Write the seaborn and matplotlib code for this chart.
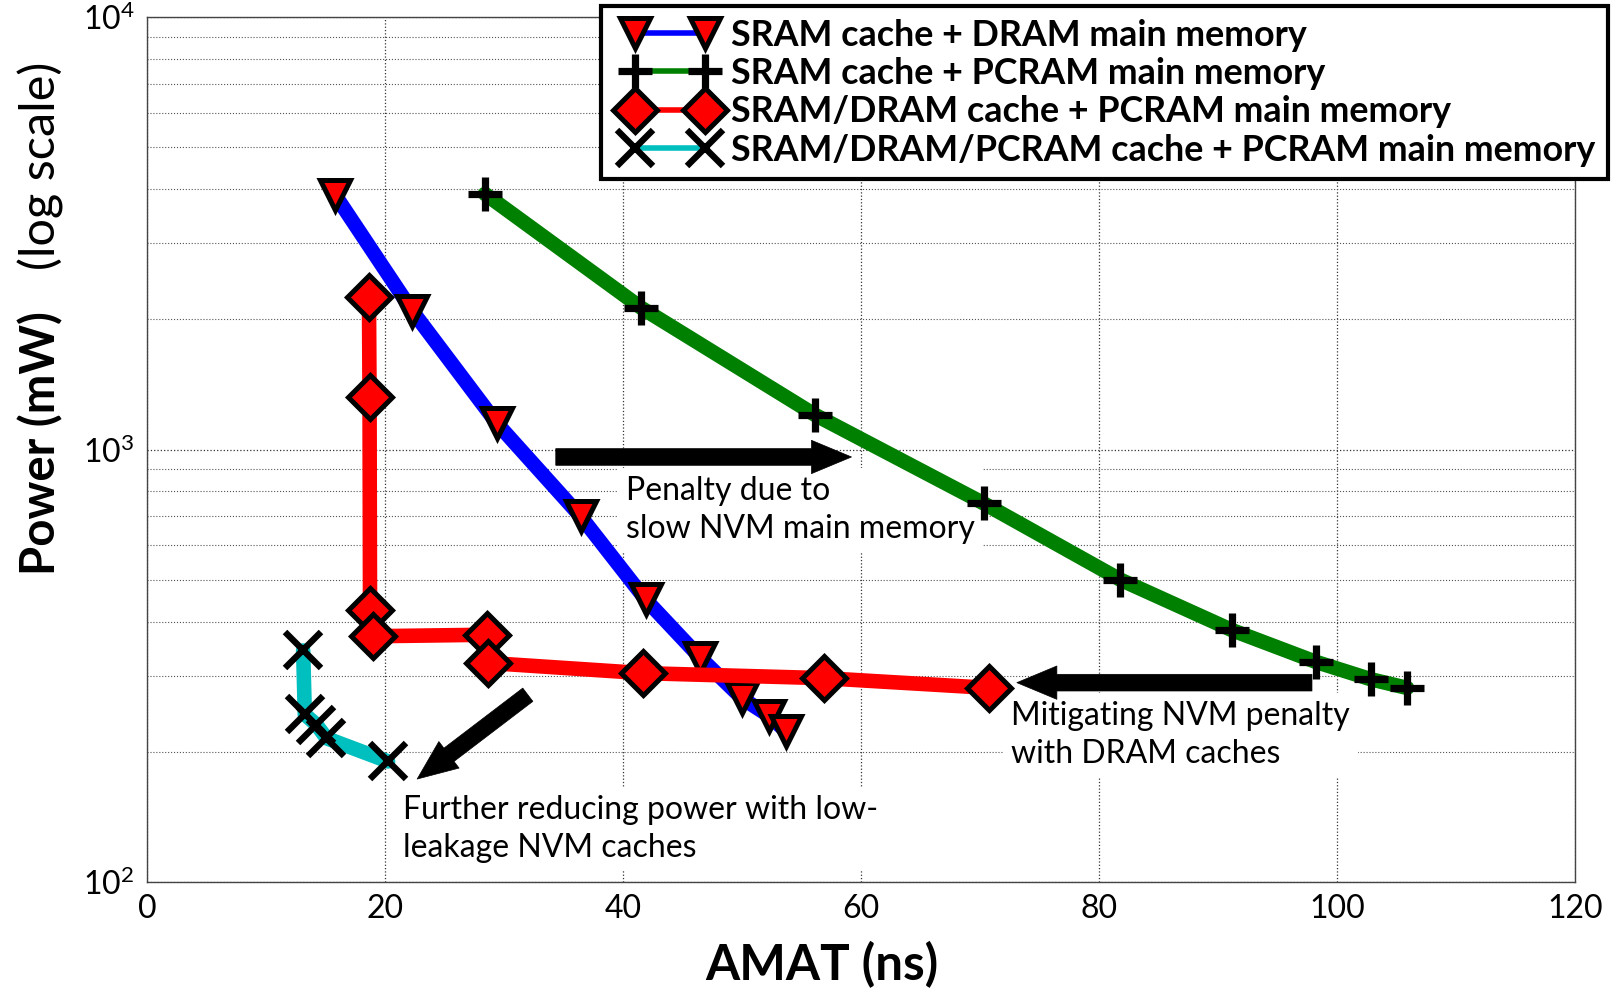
import math
import numpy as np
import matplotlib
matplotlib.use("Agg")
import matplotlib.pyplot as plt
from matplotlib.legend_handler import HandlerLine2D
from matplotlib.lines import Line2D
from matplotlib.ticker import FixedLocator, FuncFormatter, LogLocator, NullFormatter
import pandas as pd
import seaborn as sns

# AMAT (ns) and power (mW) of each memory-hierarchy configuration
amat_sram_dram = [15.8, 22.3, 29.4, 36.45, 41.9, 46.5, 50.0, 52.3, 53.7]
power_sram_dram = [3880, 2090, 1150, 700, 450, 330, 266, 242, 223]

amat_sram_pcram = [28.4, 41.55, 56.1, 70.3, 81.8, 91.2, 98.2, 102.9, 105.9]
power_sram_pcram = [3900, 2125, 1204, 751, 500, 382, 323, 294, 281]

amat_sd_pcram = [18.65, 18.7, 18.74, 19.0, 28.56, 28.68, 41.7, 56.9, 70.8]
power_sd_pcram = [2250, 1320, 426, 370, 373, 321, 304, 296, 281]

amat_sdp_pcram = [13.12, 13.26, 14.24, 15.08, 20.26]
power_sdp_pcram = [343, 244, 231, 215, 190]

labels = [
    "SRAM cache + DRAM main memory",
    "SRAM cache + PCRAM main memory",
    "SRAM/DRAM cache + PCRAM main memory",
    "SRAM/DRAM/PCRAM cache + PCRAM main memory",
]

x_ticks = [0, 20, 40, 60, 80, 100, 120]
y_ticks = [1e2, 1e3, 1e4]


class InsetPairHandler(HandlerLine2D):
    """Two legend markers joined by a line, with separate left/right insets."""

    def __init__(self, left=0.6, right=0.3, **kw):
        super().__init__(numpoints=2, **kw)
        self._left = left
        self._right = right

    def get_xdata(self, legend, xdescent, ydescent, width, height, fontsize):
        x = np.linspace(-xdescent + self._left * fontsize,
                        -xdescent + width - self._right * fontsize, 2)
        return x, x


sns.set_theme(style="white")
plt.rcParams["font.family"] = ["Lato", "DejaVu Sans"]
plt.rcParams["mathtext.default"] = "regular"
for key in ("text.color", "axes.labelcolor", "xtick.color", "ytick.color",
            "xtick.labelcolor", "ytick.labelcolor"):
    plt.rcParams[key] = "black"

fig = plt.figure(figsize=(16.14, 9.89), dpi=100)
ax = fig.add_axes([0.0911, 0.1082, 0.8847, 0.8746])

series = [
    (amat_sram_dram, power_sram_dram, "#0000FF", "v",
     dict(markersize=22, markerfacecolor="#FF0000", markeredgecolor="black", markeredgewidth=3.6)),
    (amat_sram_pcram, power_sram_pcram, "#008000", "+",
     dict(markersize=25, markeredgecolor="black", markeredgewidth=5.2)),
    (amat_sd_pcram, power_sd_pcram, "#FF0000", "D",
     dict(markersize=22, markerfacecolor="#FF0000", markeredgecolor="black", markeredgewidth=3.6)),
    (amat_sdp_pcram, power_sdp_pcram, "#00BFBF", "x",
     dict(markersize=26, markeredgecolor="black", markeredgewidth=4.6)),
]

for (xs, ys, color, marker, mk), label in zip(series, labels):
    df = pd.DataFrame({"AMAT": xs, "Power": ys})
    sns.lineplot(data=df, x="AMAT", y="Power", ax=ax, sort=False, estimator=None,
                 color=color, linewidth=10.5, marker=marker, label=label,
                 legend=False, zorder=3, **mk)

ax.set_yscale("log")
ax.set_xlim(0, 120)
ax.set_ylim(1e2, 1e4)
ax.xaxis.set_major_locator(FixedLocator(x_ticks))
ax.yaxis.set_major_locator(FixedLocator(y_ticks))
ax.yaxis.set_minor_locator(LogLocator(base=10, subs=range(2, 10)))
ax.yaxis.set_minor_formatter(NullFormatter())
ax.yaxis.set_major_formatter(FuncFormatter(lambda v, p: r"$10^{%d}$" % round(math.log10(v))))

ax.set_axisbelow(True)
ax.grid(True, which="major", axis="both", linestyle=":", color="#333333", linewidth=0.9)
ax.grid(True, which="minor", axis="y", linestyle=":", color="#555555", linewidth=0.8)
ax.tick_params(axis="both", which="major", direction="in", length=5, width=0.8,
               labelsize=23, pad=9, color="#333333", labelcolor="black")
ax.tick_params(axis="y", which="minor", direction="in", length=3, width=0.6, color="#333333")
for sp in ax.spines.values():
    sp.set_color("#444444")
    sp.set_linewidth(1.0)
ax.set_xlabel("")
ax.set_ylabel("")

fig.text(0.5093, 0.0091, "AMAT (ns)", ha="center", va="baseline",
         fontsize=35.5, fontweight="bold")
fig.text(0.0254, 1 - 575 / 989, "Power (mW)", rotation=90, ha="center", va="bottom",
         fontsize=34, fontweight="bold")
fig.text(0.0254, 1 - 62 / 989, "(log scale)", rotation=90, ha="center", va="top",
         fontsize=35, fontweight="normal")

# Annotation arrows
arrow_style = "simple,head_length=2.4,head_width=2.0,tail_width=1.0"
arrows = [((59.2, 961), (34.35, 961)),
          ((73.1, 289), (97.9, 289)),
          ((22.7, 173), (32.0, 271))]
for tip, tail in arrows:
    ax.annotate("", xy=tip, xytext=tail,
                arrowprops=dict(arrowstyle=arrow_style, mutation_scale=12,
                                fc="black", ec="black", lw=0.5,
                                shrinkA=0, shrinkB=0), zorder=6)

box = dict(boxstyle="square,pad=0.25", fc="white", ec="none")
note_kw = dict(fontsize=23, fontweight="normal", ha="left", va="top", bbox=box,
               linespacing=1.35, zorder=1)
ax.text(40.25, 870, "Penalty due to\nslow NVM main memory", **note_kw)
ax.text(72.6, 262, "Mitigating NVM penalty\nwith DRAM caches", **note_kw)
ax.text(21.5, 159, "Further reducing power with low-\nleakage NVM caches", **note_kw)

handles = ax.get_lines()[:4]
pair_handler = InsetPairHandler(left=0.6, right=0.3)
hmap = {Line2D: pair_handler}
hmap.update({h: pair_handler for h in handles})
leg = ax.legend(handles, labels, loc="upper right",
                bbox_to_anchor=(1608 / 1614, 1 - 6 / 989), bbox_transform=fig.transFigure,
                borderaxespad=0, numpoints=2, handlelength=2.855, handletextpad=0.43,
                labelspacing=0.15, borderpad=0.35, fancybox=False, framealpha=1,
                edgecolor="black", prop=dict(size=25.8, weight="bold"),
                handler_map=hmap)
leg.get_frame().set_linewidth(3)
leg.set_zorder(10)
for h in leg.get_lines():
    h.set_linewidth(4)

fig.savefig("out.png", dpi=100)
